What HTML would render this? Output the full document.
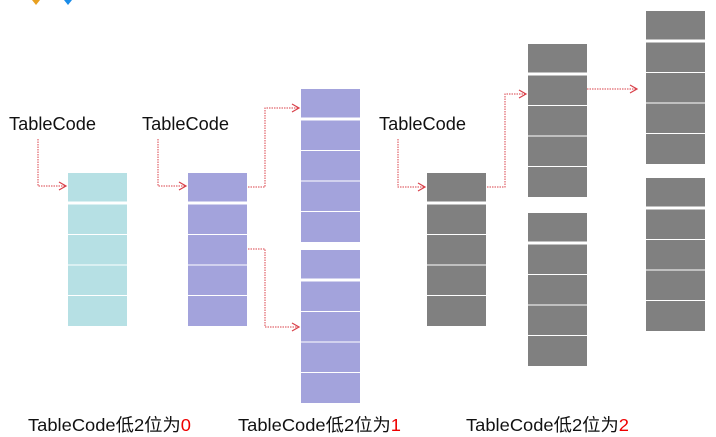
<!DOCTYPE html><html><head><meta charset="utf-8"><style>body{margin:0;background:#fff}svg{display:block}text{font-family:"Liberation Sans","Noto Sans CJK SC",sans-serif}</style></head><body>
<svg width="716" height="437" viewBox="0 0 716 437" xmlns="http://www.w3.org/2000/svg">
<defs>
<marker id="a" markerWidth="10" markerHeight="10" refX="8" refY="5" orient="auto" markerUnits="userSpaceOnUse"><path d="M1,1 L8,5 L1,9" fill="none" stroke="#d9414a" stroke-width="1.2"/></marker>
<g id="col5"><rect x="0" y="0" width="59" height="28.5"/><rect x="0" y="31.5" width="59" height="29.5"/><rect x="0" y="62" width="59" height="29.5"/><rect x="0" y="92.5" width="59" height="29.5"/><rect x="0" y="123" width="59" height="30"/></g>
</defs>
<path d="M32,0 L40,0 L36,5Z" fill="#e8a020"/><path d="M64,0 L72,0 L68,5Z" fill="#1a8ce8"/>
<g fill="#b6e0e4"><use href="#col5" x="68" y="173"/></g>
<g fill="#a3a3dc"><use href="#col5" x="188" y="173"/><use href="#col5" x="301" y="89"/><use href="#col5" x="301" y="250"/></g>
<g fill="#808080"><use href="#col5" x="427" y="173"/><use href="#col5" x="528" y="44"/><use href="#col5" x="528" y="213"/><use href="#col5" x="646" y="11"/><use href="#col5" x="646" y="178"/></g>
<g fill="none" stroke="#d9414a" stroke-width="1" stroke-dasharray="1.5,1" marker-end="url(#a)">
<path d="M38,139 V186 H66"/>
<path d="M158,139 V186 H186"/>
<path d="M248,187 H265 V108 H299"/>
<path d="M248,249 H265 V327 H299"/>
<path d="M398,139 V187 H425"/>
<path d="M487,187 H505 V94 H526"/>
<path d="M587,89 H637"/>
</g>
<g font-size="18.2" fill="#111">
<text x="9" y="130">TableCode</text>
<text x="142" y="130">TableCode</text>
<text x="379" y="130">TableCode</text>
</g>
<g font-size="17.5" fill="#111">
<text x="28" y="431" textLength="163" lengthAdjust="spacingAndGlyphs">TableCode低2位为<tspan fill="#e00">0</tspan></text>
<text x="238" y="431" textLength="163" lengthAdjust="spacingAndGlyphs">TableCode低2位为<tspan fill="#e00">1</tspan></text>
<text x="466" y="431" textLength="163" lengthAdjust="spacingAndGlyphs">TableCode低2位为<tspan fill="#e00">2</tspan></text>
</g>
</svg>
</body></html>
